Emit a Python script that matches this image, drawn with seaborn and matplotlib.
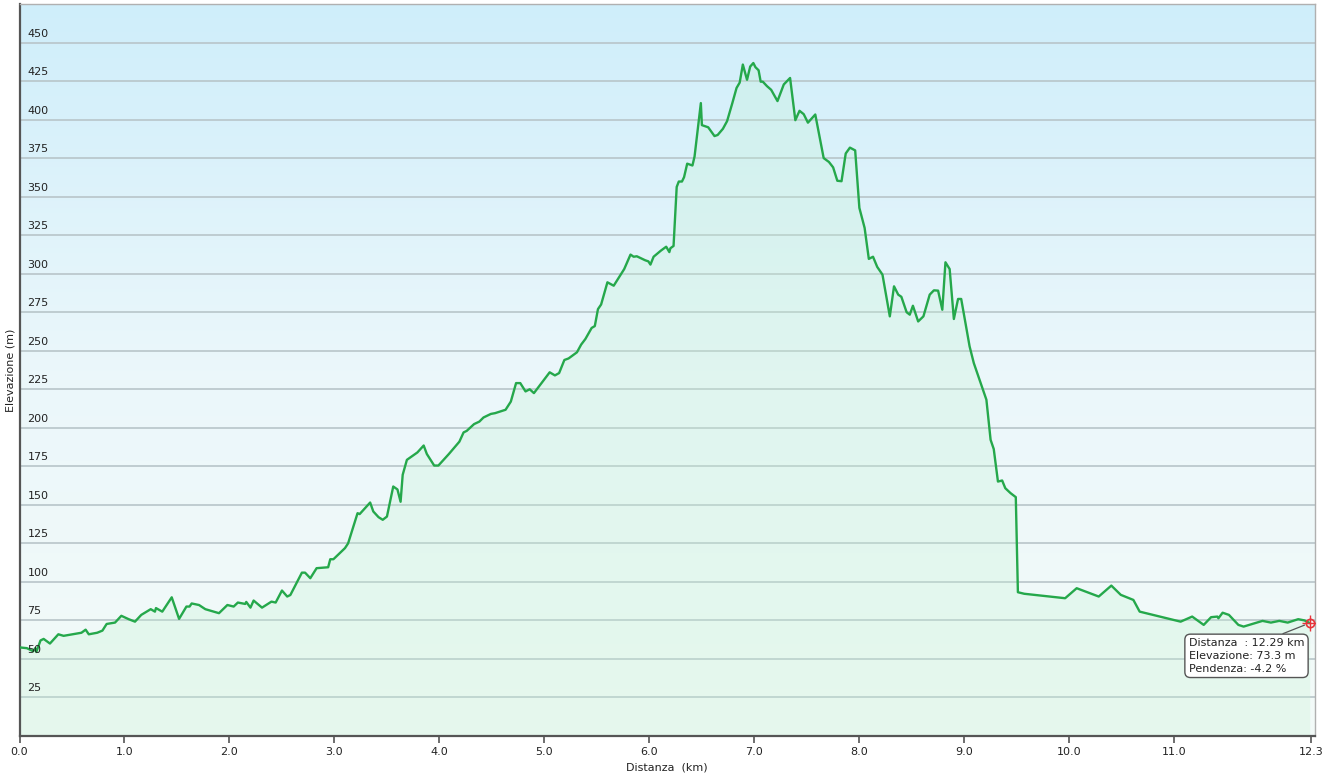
import numpy as np
import matplotlib
matplotlib.use("Agg")
import matplotlib.pyplot as plt
import seaborn as sns
from matplotlib.colors import LinearSegmentedColormap

# elevation profile
km = [0.00, 0.07, 0.13, 0.15, 0.16, 0.20, 0.23, 0.29, 0.37, 0.42, 0.59, 0.63,
      0.66, 0.74, 0.79, 0.83, 0.91, 0.97, 1.04, 1.10, 1.16, 1.25, 1.29, 1.30,
      1.36, 1.45, 1.52, 1.59, 1.62, 1.64, 1.71, 1.77, 1.90, 1.98, 2.04, 2.08,
      2.15, 2.16, 2.20, 2.23, 2.31, 2.40, 2.44, 2.50, 2.55, 2.58, 2.69, 2.72,
      2.77, 2.83, 2.94, 2.96, 2.99, 3.10, 3.13, 3.18, 3.22, 3.24, 3.34, 3.37,
      3.42, 3.46, 3.50, 3.56, 3.60, 3.63, 3.65, 3.69, 3.79, 3.85, 3.88, 3.95,
      3.99, 4.09, 4.19, 4.23, 4.26, 4.33, 4.38, 4.42, 4.49, 4.53, 4.63, 4.68,
      4.73, 4.77, 4.82, 4.86, 4.90, 5.05, 5.10, 5.14, 5.19, 5.23, 5.31, 5.35,
      5.39, 5.45, 5.48, 5.51, 5.54, 5.60, 5.66, 5.76, 5.82, 5.85, 5.88, 5.96,
      5.99, 6.01, 6.04, 6.11, 6.16, 6.19, 6.20, 6.23, 6.26, 6.28, 6.31, 6.33,
      6.36, 6.41, 6.43, 6.49, 6.50, 6.56, 6.62, 6.65, 6.70, 6.74, 6.79, 6.83,
      6.86, 6.89, 6.93, 6.96, 6.99, 7.01, 7.04, 7.06, 7.08, 7.12, 7.16, 7.22,
      7.28, 7.34, 7.39, 7.43, 7.47, 7.51, 7.58, 7.66, 7.71, 7.75, 7.79, 7.83,
      7.87, 7.91, 7.96, 8.00, 8.05, 8.09, 8.13, 8.17, 8.22, 8.29, 8.33, 8.37,
      8.40, 8.45, 8.48, 8.51, 8.56, 8.61, 8.67, 8.71, 8.75, 8.79, 8.82, 8.86,
      8.90, 8.94, 8.97, 9.05, 9.09, 9.21, 9.25, 9.28, 9.32, 9.36, 9.39, 9.44,
      9.49, 9.51, 9.57, 9.96, 10.07, 10.28, 10.40, 10.49, 10.61, 10.67, 11.06,
      11.17, 11.28, 11.35, 11.41, 11.42, 11.46, 11.52, 11.61, 11.66, 11.84,
      11.92, 12.00, 12.08, 12.18, 12.24, 12.29]
elev = [57.5, 57.0, 55.0, 57.0, 54.5, 62.0, 63.0, 60.0, 66.0, 65.0, 67.0, 69.0,
        66.0, 67.0, 68.4, 72.7, 73.6, 78.0, 75.8, 74.2, 78.6, 82.3, 80.7, 83.0,
        80.7, 90.0, 76.0, 84.0, 84.0, 86.0, 85.0, 82.3, 79.7, 85.0, 84.0, 86.6,
        85.7, 87.0, 83.3, 87.9, 83.3, 87.2, 86.6, 94.4, 90.5, 91.5, 106.0, 106.0,
        102.4, 108.9, 109.5, 114.7, 114.7, 121.9, 125.0, 136.0, 144.6, 144.0, 151.5, 145.7,
        142.0, 140.3, 142.4, 161.9, 160.0, 152.0, 169.5, 179.2, 184.0, 188.5, 183.0, 175.5,
        175.5, 183.0, 191.0, 197.0, 198.0, 202.4, 204.0, 206.7, 209.0, 209.5, 211.7, 217.0,
        229.0, 229.0, 223.6, 225.0, 222.5, 236.0, 234.0, 235.5, 244.0, 245.0, 249.0, 254.0,
        257.6, 264.8, 266.0, 277.0, 280.0, 294.4, 292.2, 303.0, 312.4, 311.0, 311.3, 308.7,
        308.0, 305.9, 311.0, 315.0, 317.5, 314.0, 316.5, 318.0, 356.3, 359.8, 359.8, 362.6,
        371.4, 370.2, 376.0, 410.7, 396.4, 395.0, 389.3, 390.0, 394.0, 399.0, 410.7, 420.5,
        424.0, 435.7, 425.8, 434.4, 436.7, 434.0, 432.0, 424.6, 424.6, 421.7, 419.3, 412.0,
        422.8, 427.0, 399.6, 405.7, 403.5, 398.0, 403.3, 375.0, 372.5, 369.0, 360.3, 360.0,
        378.0, 381.8, 380.0, 342.7, 329.7, 309.6, 311.0, 304.4, 299.4, 272.3, 291.8, 286.4,
        285.0, 275.0, 273.4, 279.2, 269.0, 272.3, 286.4, 289.2, 289.0, 276.6, 307.4, 303.0,
        270.6, 283.6, 283.6, 252.8, 242.0, 218.2, 192.2, 186.2, 165.1, 165.8, 160.8, 157.6,
        155.0, 93.3, 92.3, 89.4, 95.9, 90.5, 97.6, 91.6, 88.3, 80.7, 74.2,
        77.5, 72.1, 77.1, 77.5, 76.4, 80.0, 78.6, 72.1, 71.0, 74.7,
        73.6, 74.7, 73.6, 75.8, 75.0, 73.3]

xticks = [0, 1, 2, 3, 4, 5, 6, 7, 8, 9, 10, 11, 12.3]
xtick_labels = ["0.0", "1.0", "2.0", "3.0", "4.0", "5.0", "6.0", "7.0",
                "8.0", "9.0", "10.0", "11.0", "12.3"]
yticks = list(range(25, 451, 25))
tooltip = "Distanza  : 12.29 km\nElevazione: 73.3 m\nPendenza: -4.2 %"

sns.set_style("white")
plt.rcParams['font.family'] = ['DejaVu Sans']

fig = plt.figure(figsize=(13.25, 7.83), dpi=100)
ax = fig.add_axes([19.5 / 1325, 47 / 783, 1295.5 / 1325, 732 / 783])

# background gradient, blue at top fading to pale green-white
cmap = LinearSegmentedColormap.from_list(
    "bg", ["#f3fbf8", "#ebf7fb", "#cfeefa"])
grad = np.linspace(0, 1, 256).reshape(-1, 1)
ax.imshow(grad, extent=[0, 1, 0, 1], transform=ax.transAxes, aspect='auto',
          cmap=cmap, origin='lower', zorder=0)

for y in yticks:
    ax.axhline(y, color='#b8c5c9', lw=1.2, zorder=1)

ax.fill_between(km, elev, 0, color='#c4f2d4', alpha=0.28, lw=0, zorder=1.5)
sns.lineplot(x=km, y=elev, ax=ax, color='#25a84b', lw=1.7, sort=False,
             estimator=None, zorder=3)

ax.set_xlim(0, 12.34)
ax.set_ylim(0, 475)

ax.set_xticks(xticks)
ax.set_xticklabels(xtick_labels, fontsize=8, color='#222222')
ax.tick_params(axis='x', direction='out', length=5, width=1.2, color='#555555',
               pad=3, bottom=True)
ax.set_yticks([])
for y in yticks:
    ax.annotate(str(y), xy=(0, y), xycoords=('axes fraction', 'data'),
                xytext=(8, 4), textcoords='offset pixels', fontsize=8,
                color='#222222', ha='left', va='bottom', zorder=4)

ax.set_xlabel("Distanza  (km)", fontsize=8, color='#222222', labelpad=4)
ax.set_ylabel("Elevazione (m)", fontsize=8, color='#222222', labelpad=3)

for side in ['left', 'bottom']:
    ax.spines[side].set_color('#555555')
    ax.spines[side].set_linewidth(1.6)
for side in ['top', 'right']:
    ax.spines[side].set_color('#b0b0b0')
    ax.spines[side].set_linewidth(1.0)

# current-position marker and tooltip
px, py = km[-1], elev[-1]
ax.plot(px, py, marker='o', ms=6, mfc='none', mec='#e8333a', mew=1.2, zorder=5)
ax.plot(px, py, marker='+', ms=12, mec='#e8333a', mew=1.0, zorder=5)
ax.annotate(tooltip, xy=(px, py), xytext=(-121, -15), textcoords='offset pixels',
            fontsize=8, color='#222222', ha='left', va='top', linespacing=1.35,
            bbox=dict(boxstyle='round,pad=0.35,rounding_size=0.5', fc='white',
                      ec='#555555', lw=1.0),
            arrowprops=dict(arrowstyle='-', color='#555555', lw=0.9,
                            relpos=(0.72, 1.0), shrinkA=0, shrinkB=4),
            zorder=6)

fig.savefig("out.png", dpi=100, facecolor='white')
